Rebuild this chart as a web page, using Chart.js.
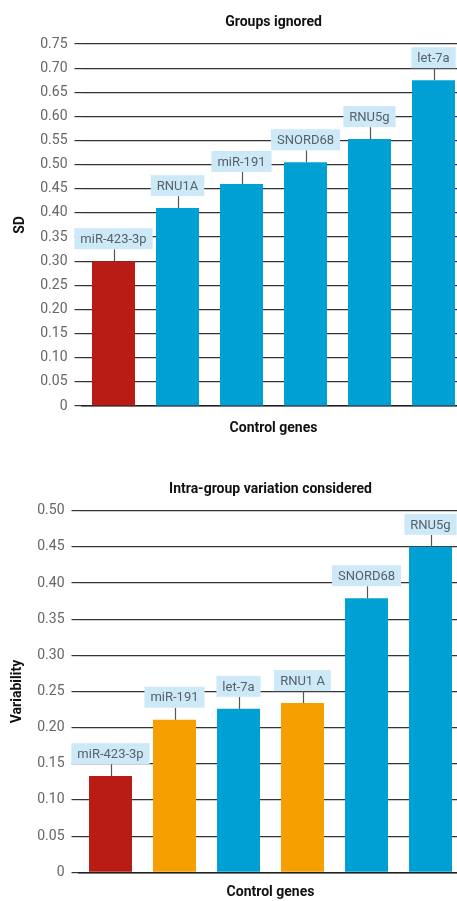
<!DOCTYPE html>
<html>
<head>
<meta charset="utf-8">
<script src="https://cdn.jsdelivr.net/npm/chart.js@4"></script>
<style>
  html, body { margin: 0; padding: 0; background: #fff; overflow: hidden; width: 457px; height: 901px; }
  .box { position: absolute; left: 0; width: 470px; }
  #b1 { top: 0; height: 445px; }
  #b2 { top: 460px; height: 441px; }
</style>
</head>
<body>
<div class="box" id="b1"><canvas id="c1"></canvas></div>
<div class="box" id="b2"><canvas id="c2"></canvas></div>
<script>
// ---- Data ----
const genes1 = ['miR-423-3p', 'RNU1A', 'miR-191', 'SNORD68', 'RNU5g', 'let-7a'];
const sd1 = [0.30, 0.41, 0.46, 0.505, 0.553, 0.675];
const colors1 = ['#b81c14', '#00a0d4', '#00a0d4', '#00a0d4', '#00a0d4', '#00a0d4'];
const ticks1 = ['0', '0.05', '0.10', '0.15', '0.20', '0.25', '0.30', '0.35', '0.40', '0.45', '0.50', '0.55', '0.60', '0.65', '0.70', '0.75'];

const genes2 = ['miR-423-3p', 'miR-191', 'let-7a', 'RNU1 A', 'SNORD68', 'RNU5g'];
const var2 = [0.133, 0.211, 0.226, 0.234, 0.379, 0.45];
const colors2 = ['#b81c14', '#f5a000', '#00a0d4', '#f5a000', '#00a0d4', '#00a0d4'];
const ticks2 = ['0', '0.05', '0.10', '0.15', '0.20', '0.25', '0.30', '0.35', '0.40', '0.45', '0.50'];

const FONT = 'Roboto, "DejaVu Sans", sans-serif';

const boxLabels = {
  id: 'boxLabels',
  afterDatasetsDraw(chart) {
    const ctx = chart.ctx;
    const meta = chart.getDatasetMeta(0);
    const labels = chart.data.labels;
    ctx.save();
    ctx.font = '13px ' + FONT;
    meta.data.forEach((bar, i) => {
      const txt = labels[i];
      const w = ctx.measureText(txt).width + 12;
      const h = 21;
      const gap = 12;
      const x = bar.x;
      const top = bar.y;
      ctx.strokeStyle = '#555';
      ctx.lineWidth = 1.2;
      ctx.beginPath();
      ctx.moveTo(Math.round(x) + 0.5, top);
      ctx.lineTo(Math.round(x) + 0.5, top - gap);
      ctx.stroke();
      ctx.fillStyle = '#cde9f8';
      ctx.fillRect(x - w / 2, top - gap - h, w, h);
      ctx.fillStyle = '#56626a';
      ctx.textAlign = 'center';
      ctx.textBaseline = 'middle';
      ctx.fillText(txt, x, top - gap - h / 2 + 1);
    });
    ctx.restore();
  }
};

function makeChart(id, labels, values, colors, tickLabels, maxV, title, yTitle, yWidth, padRight, titlePad, yTitlePad, xTitlePad) {
  return new Chart(document.getElementById(id), {
    type: 'bar',
    data: {
      labels: labels,
      datasets: [{
        data: values,
        backgroundColor: colors,
        categoryPercentage: 1.0,
        barPercentage: 0.672
      }]
    },
    options: {
      responsive: true,
      maintainAspectRatio: false,
      animation: false,
      devicePixelRatio: 1,
      layout: { padding: { left: 0, right: padRight, top: 0, bottom: 0 } },
      plugins: {
        legend: { display: false },
        tooltip: { enabled: false },
        title: {
          display: true,
          text: title,
          fullSize: false,
          color: '#111',
          font: { family: FONT, size: 14, weight: 'bold' },
          padding: titlePad
        }
      },
      scales: {
        x: {
          grid: { display: false, drawTicks: false },
          border: { display: true, color: '#222', width: 1.5 },
          ticks: { display: false },
          title: {
            display: true,
            text: 'Control genes',
            color: '#111',
            font: { family: FONT, size: 14, weight: 'bold' },
            padding: xTitlePad
          }
        },
        y: {
          min: 0,
          max: maxV,
          afterFit: (axis) => { axis.width = yWidth; },
          afterBuildTicks: (axis) => {
            axis.ticks = tickLabels.map((t) => ({ value: parseFloat(t) }));
          },
          grid: { color: '#333', lineWidth: 1.2, drawTicks: true, tickLength: 7, tickColor: '#333' },
          border: { display: false },
          ticks: {
            padding: 7,
            color: '#666',
            font: { family: FONT, size: 14 },
            callback: (v, i) => tickLabels[i]
          },
          title: {
            display: true,
            text: yTitle,
            color: '#111',
            font: { family: FONT, size: 14, weight: 'bold' },
            padding: yTitlePad
          }
        }
      }
    },
    plugins: [boxLabels]
  });
}

makeChart('c1', genes1, sd1, colors1, ticks1, 0.75, 'Groups ignored', 'SD', 81.5, 4.5,
  { top: 13.6, bottom: 13.6 }, { top: 11.6, bottom: 0 }, { top: 13.6, bottom: 8.6 });
makeChart('c2', genes2, var2, colors2, ticks2, 0.5, 'Intra-group variation considered', 'Variability', 78.5, 7.5,
  { top: 20.6, bottom: 13.3 }, { top: 8.6, bottom: 0 }, { top: 11.9, bottom: 0 });
</script>
</body>
</html>
